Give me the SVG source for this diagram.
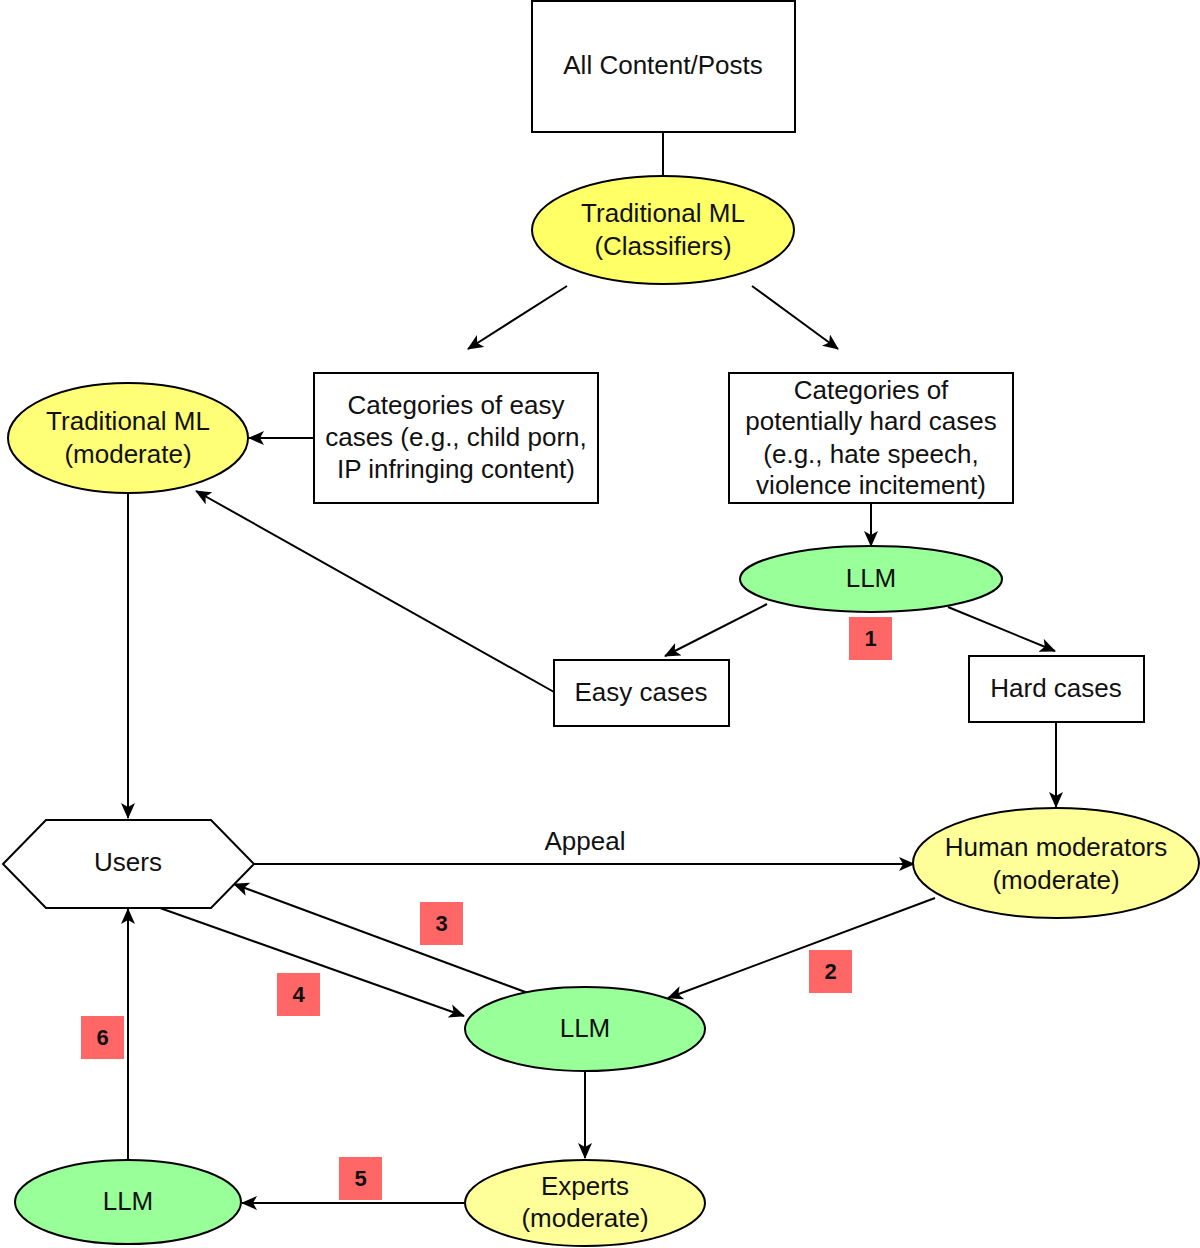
<svg xmlns="http://www.w3.org/2000/svg" width="1200" height="1248" viewBox="0 0 1200 1248">
<style>
text{font-family:"Liberation Sans",Arial,sans-serif;font-size:26px;fill:#111;text-anchor:middle;dominant-baseline:central}
.box{fill:#fff;stroke:#000;stroke-width:2}
.y1{fill:#ffff66;stroke:#000;stroke-width:2}
.y2{fill:#ffff77;stroke:#000;stroke-width:2}
.y3{fill:#ffff99;stroke:#000;stroke-width:2}
.g{fill:#99ff99;stroke:#000;stroke-width:2}
.badge{fill:#ff6666}
.num{font-weight:bold;font-size:22px}
.c{fill:none;stroke:#000;stroke-width:2}
</style>
<defs>
<marker id="a" viewBox="0 0 16 14" refX="15" refY="7" markerWidth="16" markerHeight="14" markerUnits="userSpaceOnUse" orient="auto">
<path d="M0,0 L16,7 L0,14 L4,7 z" fill="#000"/>
</marker>
</defs>
<g id="connectors">
<line class="c" x1="663" y1="132" x2="663" y2="176"/>
<line class="c" x1="567" y1="286" x2="468" y2="349" marker-end="url(#a)"/>
<line class="c" x1="752" y1="286" x2="838" y2="349" marker-end="url(#a)"/>
<line class="c" x1="314" y1="438" x2="249" y2="438" marker-end="url(#a)"/>
<line class="c" x1="871" y1="503" x2="871" y2="546" marker-end="url(#a)"/>
<line class="c" x1="767" y1="604" x2="665" y2="656" marker-end="url(#a)"/>
<line class="c" x1="948" y1="607" x2="1055" y2="651" marker-end="url(#a)"/>
<line class="c" x1="554" y1="692" x2="196" y2="491" marker-end="url(#a)"/>
<line class="c" x1="128" y1="493" x2="128" y2="818" marker-end="url(#a)"/>
<line class="c" x1="254" y1="864" x2="914" y2="864" marker-end="url(#a)"/>
<line class="c" x1="1056" y1="722" x2="1056" y2="807" marker-end="url(#a)"/>
<line class="c" x1="935" y1="898" x2="668" y2="998" marker-end="url(#a)"/>
<line class="c" x1="528" y1="993" x2="234" y2="884" marker-end="url(#a)"/>
<line class="c" x1="160" y1="908" x2="464" y2="1016" marker-end="url(#a)"/>
<line class="c" x1="585" y1="1071" x2="585" y2="1158" marker-end="url(#a)"/>
<line class="c" x1="464" y1="1203" x2="242" y2="1203" marker-end="url(#a)"/>
<line class="c" x1="128" y1="1159" x2="128" y2="909" marker-end="url(#a)"/>
<text x="585" y="841">Appeal</text>
</g>
<g id="all-content"><rect class="box" x="532" y="1" width="263" height="131"/><text x="663" y="65">All Content/Posts</text></g>
<g id="tml-classifiers"><ellipse class="y1" cx="663" cy="230" rx="131" ry="54"/><text x="663" y="213">Traditional ML</text><text x="663" y="246">(Classifiers)</text></g>
<g id="tml-moderate"><ellipse class="y2" cx="128" cy="438" rx="120" ry="55"/><text x="128" y="421">Traditional ML</text><text x="128" y="454">(moderate)</text></g>
<g id="easy-categories"><rect class="box" x="314" y="373" width="284" height="130"/><text x="456" y="405">Categories of easy</text><text x="456" y="437">cases (e.g., child porn,</text><text x="456" y="469">IP infringing content)</text></g>
<g id="hard-categories"><rect class="box" x="729" y="373" width="284" height="130"/><text x="871" y="390">Categories of</text><text x="871" y="421">potentially hard cases</text><text x="871" y="454">(e.g., hate speech,</text><text x="871" y="485">violence incitement)</text></g>
<g id="llm1"><ellipse class="g" cx="871" cy="579" rx="131" ry="33"/><text x="871" y="578">LLM</text></g>
<g id="badge1"><rect class="badge" x="849" y="617" width="43" height="43"/><text class="num" x="870.5" y="638.5">1</text></g>
<g id="easy-cases"><rect class="box" x="554" y="660" width="175" height="66"/><text x="641" y="692">Easy cases</text></g>
<g id="hard-cases"><rect class="box" x="969" y="656" width="175" height="66"/><text x="1056" y="688">Hard cases</text></g>
<g id="users"><polygon class="box" points="3,864 46,820 211,820 254,864 211,908 46,908"/><text x="128" y="862">Users</text></g>
<g id="human-moderators"><ellipse class="y3" cx="1056" cy="863" rx="143" ry="55"/><text x="1056" y="847">Human moderators</text><text x="1056" y="880">(moderate)</text></g>
<g id="badge2"><rect class="badge" x="809" y="950" width="43" height="43"/><text class="num" x="830.5" y="971.5">2</text></g>
<g id="badge3"><rect class="badge" x="420" y="902" width="43" height="43"/><text class="num" x="441.5" y="923.5">3</text></g>
<g id="badge4"><rect class="badge" x="277" y="973" width="43" height="43"/><text class="num" x="298.5" y="994.5">4</text></g>
<g id="llm2"><ellipse class="g" cx="585" cy="1029" rx="120" ry="42"/><text x="585" y="1028">LLM</text></g>
<g id="experts"><ellipse class="y3" cx="585" cy="1203" rx="120" ry="43"/><text x="585" y="1186">Experts</text><text x="585" y="1218">(moderate)</text></g>
<g id="badge5"><rect class="badge" x="339" y="1157" width="43" height="43"/><text class="num" x="360.5" y="1178.5">5</text></g>
<g id="llm3"><ellipse class="g" cx="128" cy="1202" rx="113" ry="42"/><text x="128" y="1201">LLM</text></g>
<g id="badge6"><rect class="badge" x="81" y="1016" width="43" height="43"/><text class="num" x="102.5" y="1037.5">6</text></g>
</svg>
